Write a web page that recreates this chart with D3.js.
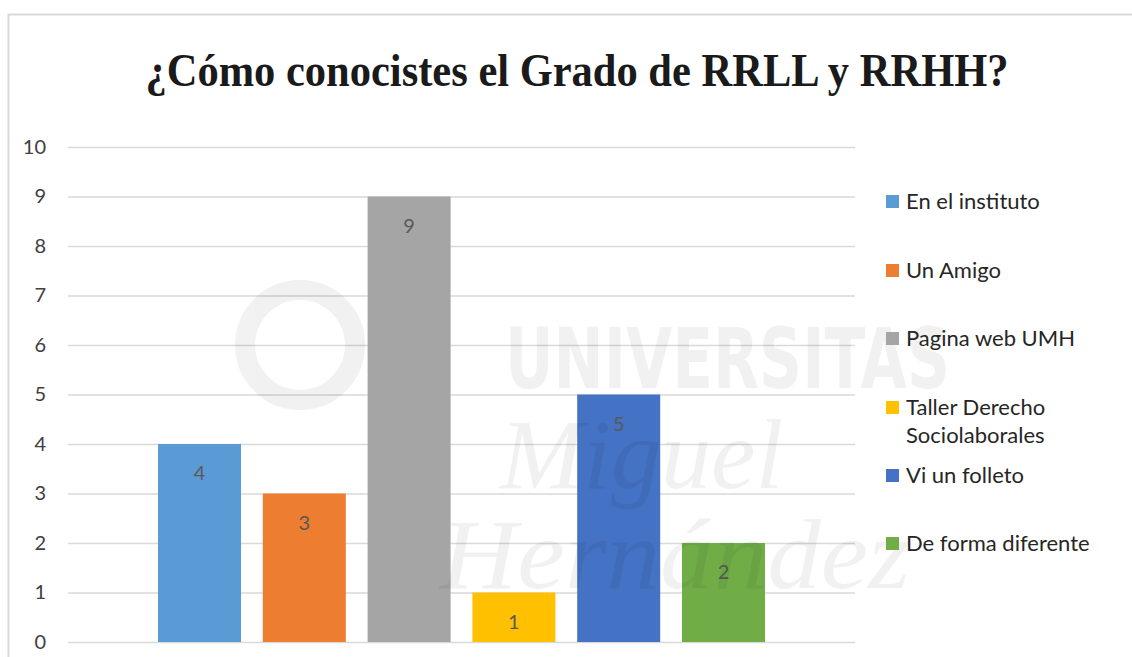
<!DOCTYPE html>
<html>
<head>
<meta charset="utf-8">
<script src="https://cdn.jsdelivr.net/npm/d3@7"></script>
<style>
  body { margin: 0; background: #fff; }
  svg { display: block; }
</style>
</head>
<body>
<svg id="chart" width="1132" height="657"></svg>
<script>
// chart values
const series = ["En el instituto", "Un Amigo", "Pagina web UMH", "Taller Derecho Sociolaborales", "Vi un folleto", "De forma diferente"];
const values = [4, 3, 9, 1, 5, 2];
const colors = ["#5b9bd5", "#ed7d31", "#a5a5a5", "#ffc000", "#4472c4", "#70ad47"];
const yTicks = [0, 1, 2, 3, 4, 5, 6, 7, 8, 9, 10];
const legendLines = [["En el instituto"], ["Un Amigo"], ["Pagina web UMH"], ["Taller Derecho", "Sociolaborales"], ["Vi un folleto"], ["De forma diferente"]];

const WIDTH = 1132, HEIGHT = 657;
const plot = { left: 68, right: 855, top: 147, bottom: 642 };

const svg = d3.select("#chart");

// outer chart border
svg.append("rect")
  .attr("x", 8.5).attr("y", 14.5)
  .attr("width", WIDTH).attr("height", HEIGHT)
  .attr("fill", "none")
  .attr("stroke", "#d9d9d9")
  .attr("stroke-width", 2);

svg.append("text")
  .attr("x", 577).attr("y", 86)
  .attr("text-anchor", "middle")
  .style("font-family", "'Liberation Serif', 'Times New Roman', serif")
  .style("font-weight", "bold")
  .style("font-size", "46px")
  .attr("textLength", 863)
  .attr("lengthAdjust", "spacingAndGlyphs")
  .attr("fill", "#1a1a1a")
  .text("¿Cómo conocistes el Grado de RRLL y RRHH?");

const y = d3.scaleLinear().domain([0, 10]).range([plot.bottom, plot.top]);
const x = d3.scaleBand().domain(series).range([158, 765]).paddingInner(0.208);

// gridlines + y labels
const yAxis = d3.axisLeft(y).tickValues(yTicks).tickSize(-(plot.right - plot.left)).tickPadding(22);
const gy = svg.append("g")
  .attr("transform", `translate(${plot.left},0)`)
  .call(yAxis);
gy.select(".domain").remove();
gy.selectAll(".tick line").attr("stroke", "#d9d9d9").attr("stroke-width", 1.5);
gy.selectAll(".tick text")
  .attr("fill", "#404040")
  .style("font-family", "Lato, 'Open Sans', sans-serif")
  .style("font-size", "20px");

// bars
const bars = svg.append("g").selectAll("g")
  .data(series)
  .join("g");

bars.append("rect")
  .attr("x", d => x(d))
  .attr("y", (d, i) => y(values[i]))
  .attr("width", x.bandwidth())
  .attr("height", (d, i) => y(0) - y(values[i]))
  .attr("fill", (d, i) => colors[i]);

bars.append("text")
  .attr("x", d => x(d) + x.bandwidth() / 2)
  .attr("y", (d, i) => y(values[i]) + 36)
  .attr("text-anchor", "middle")
  .attr("fill", "#595959")
  .style("font-family", "Lato, 'Open Sans', sans-serif")
  .style("font-size", "20px")
  .text((d, i) => values[i]);

// faint watermark (university logo behind the plot)
const wm = svg.append("g").attr("fill", "#000").attr("opacity", 0.05).attr("pointer-events", "none");
wm.append("text")
  .attr("x", 505).attr("y", 388)
  .style("font-family", "'DejaVu Sans', sans-serif")
  .style("font-weight", "bold")
  .style("font-size", "84px")
  .attr("textLength", 445)
  .attr("lengthAdjust", "spacingAndGlyphs")
  .text("UNIVERSITAS");
wm.append("text")
  .attr("x", 500).attr("y", 488)
  .style("font-family", "'Liberation Serif', serif")
  .style("font-style", "italic")
  .style("font-size", "100px")
  .text("Miguel");
wm.append("text")
  .attr("x", 440).attr("y", 588)
  .style("font-family", "'Liberation Serif', serif")
  .style("font-style", "italic")
  .style("font-size", "100px")
  .attr("textLength", 470)
  .attr("lengthAdjust", "spacingAndGlyphs")
  .text("Hernández");
wm.append("circle")
  .attr("cx", 300).attr("cy", 345).attr("r", 55)
  .attr("fill", "none").attr("stroke", "#000").attr("stroke-width", 20);

// legend
const legendY = [201, 270, 338, 407, 475, 543];
const leg = svg.append("g").selectAll("g")
  .data(series)
  .join("g")
  .attr("transform", (d, i) => `translate(886,${legendY[i]})`);

leg.append("rect")
  .attr("x", 0).attr("y", -6)
  .attr("width", 13).attr("height", 13)
  .attr("fill", (d, i) => colors[i]);

leg.append("text")
  .attr("x", 20)
  .attr("y", 8)
  .attr("fill", "#262626")
  .style("font-family", "Lato, 'Open Sans', sans-serif")
  .style("font-size", "22px")
  .selectAll("tspan")
  .data((d, i) => legendLines[i])
  .join("tspan")
  .attr("x", 20)
  .attr("dy", (d, j) => j === 0 ? 0 : 28)
  .text(d => d);
</script>
</body>
</html>
